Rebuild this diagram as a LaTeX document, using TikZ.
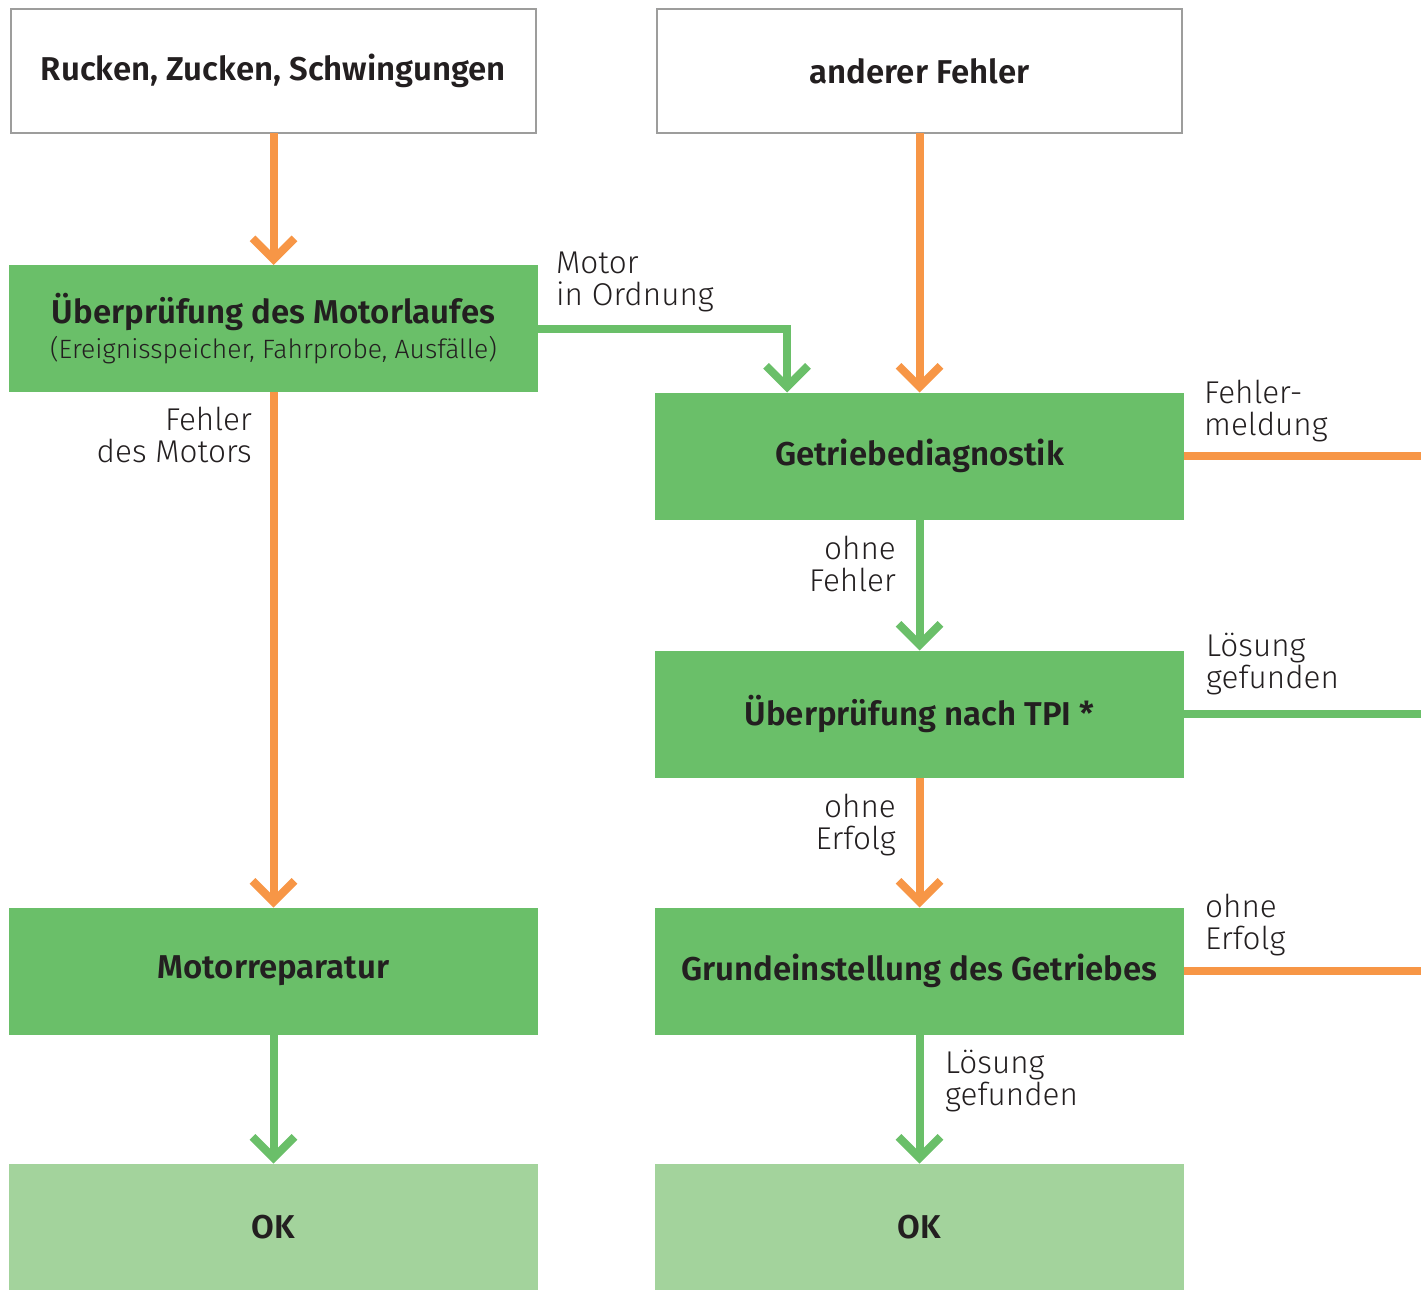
\documentclass[tikz,border=0pt]{standalone}
\usepackage{fontspec}
\setmainfont{Fira Sans}
\newfontfamily\lightfont{Fira Sans Light}
\newfontfamily\headfont{Fira Sans SemiBold}
\usetikzlibrary{arrows.meta,calc}

\definecolor{kgreen}{RGB}{106,191,105}
\definecolor{klight}{RGB}{163,211,156}
\definecolor{korange}{RGB}{247,150,70}
\definecolor{kborder}{RGB}{157,157,156}
\definecolor{ktext}{RGB}{35,31,32}

\tikzset{
  box/.style={rectangle, inner sep=0pt, outer sep=0pt,
    minimum width=529pt, minimum height=127pt,
    text=ktext, font=\headfont\fontsize{33}{38}\selectfont, align=center},
  startbox/.style={box, draw=kborder, fill=white, line width=2.5pt,
    minimum width=525pt, minimum height=124pt},
  greenbox/.style={box, fill=kgreen},
  okbox/.style={box, fill=klight},
  conn/.style={line width=8pt},
  chev/.style={-{Straight Barb[length=21pt, width=42pt]}},
  oconn/.style={conn, draw=korange},
  gconn/.style={conn, draw=kgreen},
  lbl/.style={inner sep=0pt, text=ktext,
    font=\lightfont\fontsize{31.5}{32}\selectfont},
  subline/.style={font=\lightfont\fontsize{26.5}{30}\selectfont}
}

\begin{document}
\begin{tikzpicture}[x=1pt, y=-1pt]
\path[use as bounding box] (0,0) rectangle (1425,1290);

% left column
\node[startbox] (s1) at (273.5,71) {Rucken, Zucken, Schwingungen};
\node[greenbox] (mot) at (273.5,328.5)
  {Überprüfung des Motorlaufes\\[-3pt]{\lightfont\fontsize{26.5}{30}\selectfont (Ereignisspeicher, Fahrprobe, Ausfälle)}};
\node[greenbox] (rep) at (273.5,971) {Motorreparatur};
\node[okbox] (ok1) at (273.5,1227) {OK};

% right column
\node[startbox] (s2) at (919.5,71) {anderer Fehler};
\node[greenbox] (diag) at (919.5,456) {Getriebediagnostik};
\node[greenbox] (tpi) at (919.5,714) {Überprüfung nach TPI *};
\node[greenbox] (grund) at (919.5,971) {Grundeinstellung des Getriebes};
\node[okbox] (ok2) at (919.5,1227) {OK};

% free ends of the outgoing lines
\coordinate (e1) at (1421,456);
\coordinate (e2) at (1421,714);
\coordinate (e3) at (1421,971);
\coordinate (mdrop) at ($(diag.north west)+(132,0)$);

% connectors
\draw[oconn, chev] (s1.south) -- (mot.north);
\draw[oconn, chev] (mot.south) -- (rep.north);
\draw[gconn, chev] (rep.south) -- (ok1.north);
\draw[gconn, chev] (mot.east) -| (mdrop);

\draw[oconn, chev] (s2.south) -- (diag.north);
\draw[gconn, chev] (diag.south) -- (tpi.north);
\draw[oconn, chev] (tpi.south) -- (grund.north);
\draw[gconn, chev] (grund.south) -- (ok2.north);

\draw[oconn] (diag.east) -- (e1);
\draw[gconn] (tpi.east) -- (e2);
\draw[oconn] (grund.east) -- (e3);

% labels (anchored at the baseline of their last line)
\node[lbl, anchor=base west, align=left] (l1) at (556,305) {Motor\\in Ordnung};
\node[lbl, anchor=base east, align=right] (l2) at (252,462) {Fehler\\des Motors};
\node[lbl, anchor=base east, align=right] (l3) at (896,591) {ohne\\Fehler};
\node[lbl, anchor=base east, align=right] (l4) at (896,849) {ohne\\Erfolg};
\node[lbl, anchor=base west, align=left] (l5) at (1204,435) {Fehler-\\meldung};
\node[lbl, anchor=base west, align=left] (l6) at (1206,688) {Lösung\\gefunden};
\node[lbl, anchor=base west, align=left] (l7) at (1205,949) {ohne\\Erfolg};
\node[lbl, anchor=base west, align=left] (l8) at (945,1105) {Lösung\\gefunden};
\end{tikzpicture}
\end{document}
